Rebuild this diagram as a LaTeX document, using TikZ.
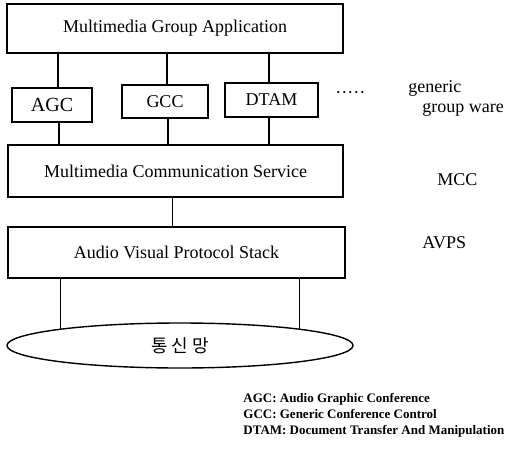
\documentclass[tikz,border=0pt]{standalone}
\usepackage{fontspec}
\setmainfont{Liberation Serif}
\newfontfamily\kofont{Noto Sans CJK KR}
\usetikzlibrary{positioning,calc,shapes.geometric}

\begin{document}
\begin{tikzpicture}[x=0.5pt, y=-0.5pt,
  box/.style={draw, line width=0.7pt, inner sep=0pt, font=\fontsize{9}{11}\selectfont},
  side/.style={anchor=west, inner sep=0pt, font=\fontsize{9}{11}\selectfont},
  link/.style={line width=0.7pt}]
  \useasboundingbox (0,0) rectangle (522,448);
  \node[box, minimum width=168pt, minimum height=24.5pt] (mga) at (175,28.5) {Multimedia Group Application};
  \node[box, minimum width=40pt, minimum height=17pt, font=\fontsize{10}{12}\selectfont] (agc) at (52,105) {AGC};
  \node[box, minimum width=43pt, minimum height=16.5pt] (gcc) at (165,101.5) {GCC};
  \node[box, minimum width=46.5pt, minimum height=17pt] (dtam) at (271.5,100) {DTAM};
  \node[box, minimum width=167.5pt, minimum height=26pt] (mcs) at (175.5,171) {Multimedia Communication Service};
  \node[box, minimum width=168.5pt, minimum height=25.5pt] (avps) at (176.5,252.5) {Audio Visual Protocol Stack};
  \node[box, ellipse, minimum width=173pt, minimum height=22.5pt, font=\kofont\fontsize{9}{11}\selectfont] (net) at (180,345.5) {통 신 망};
  % layer names on the right
  \node[side] (dots) at (335,95) {\textperiodcentered\textperiodcentered\textperiodcentered\textperiodcentered\textperiodcentered};
  \node[side] (gen) at (408,88) {generic};
  \node[side] (ware) at (422,110) {group ware};
  \node[side] (mcc) at (437,180) {MCC};
  \node[side] (avpslbl) at (422,243) {AVPS};
  % connectors
  \draw[link] ([xshift=3pt]agc.north) -- ([xshift=3pt]agc.north |- mga.south);
  \draw[link] ([xshift=1pt]gcc.north) -- ([xshift=1pt]gcc.north |- mga.south);
  \draw[link] ([xshift=-1.25pt]dtam.north) -- ([xshift=-1.25pt]dtam.north |- mga.south);
  \draw[link] ([xshift=3.5pt]agc.south) -- ([xshift=3.5pt]agc.south |- mcs.north);
  \draw[link] ([xshift=1.5pt]gcc.south) -- ([xshift=1.5pt]gcc.south |- mcs.north);
  \draw[link] ([xshift=-1.25pt]dtam.south) -- ([xshift=-1.25pt]dtam.south |- mcs.north);
  \draw[link] ([xshift=-1.5pt]mcs.south) -- ([xshift=-1.5pt]mcs.south |- avps.north);
  \draw[link] (net.172 |- avps.south) -- (net.172);
  \draw[link] (net.8 |- avps.south) -- (net.8);
  \node[anchor=north west, inner sep=0pt, align=left, font=\bfseries\fontsize{6.5}{8}\selectfont] (legend) at (243,393)
    {AGC: Audio Graphic Conference\\GCC: Generic Conference Control\\DTAM: Document Transfer And Manipulation};
\end{tikzpicture}
\end{document}
